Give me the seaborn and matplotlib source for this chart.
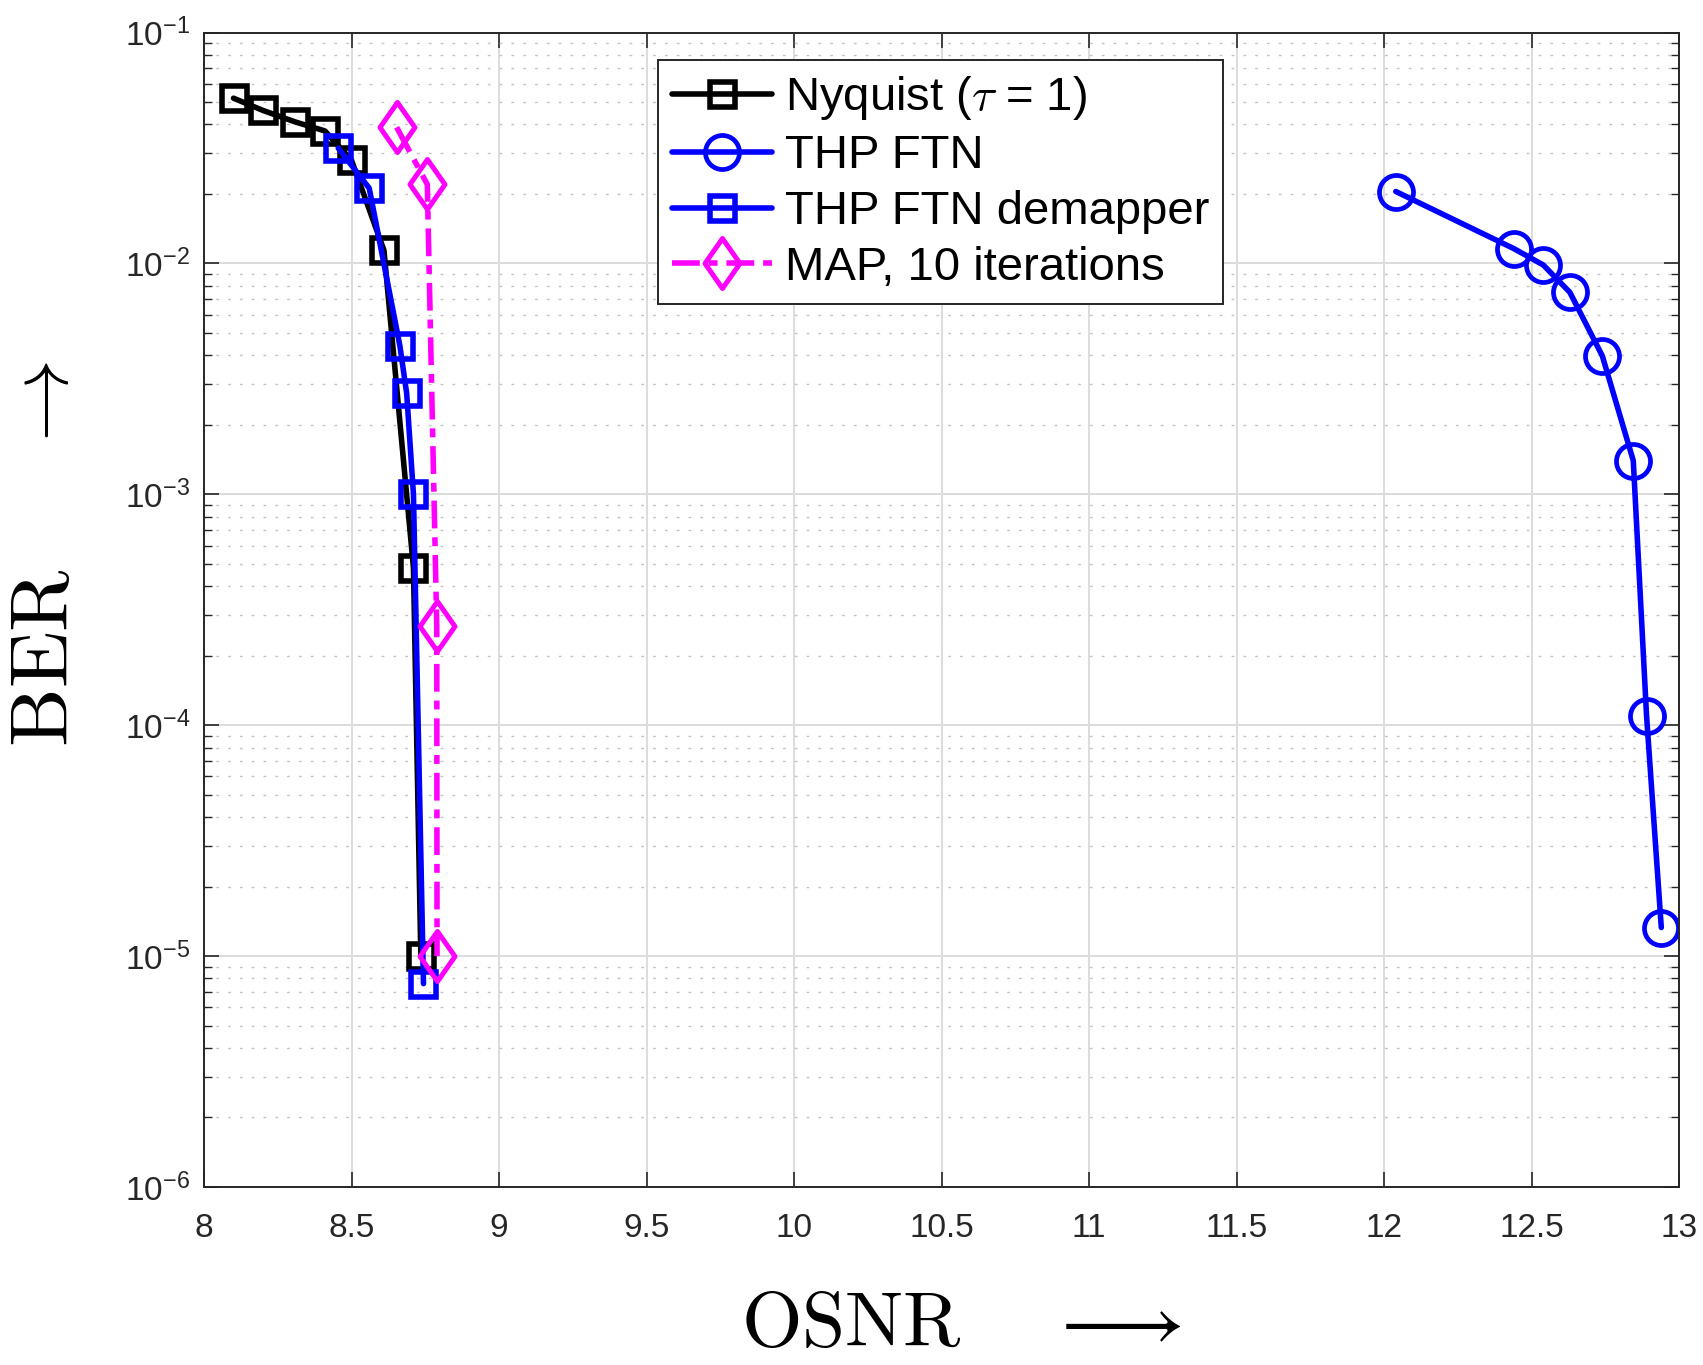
import numpy as np
import pandas as pd
import matplotlib
matplotlib.use("Agg")
import matplotlib.pyplot as plt
import seaborn as sns
from matplotlib.path import Path
from matplotlib.ticker import LogLocator, NullFormatter

# ---------------- data ----------------
nyq_x = [8.10, 8.20, 8.31, 8.41, 8.50, 8.61, 8.71, 8.735]
nyq_y = [5.2e-2, 4.6e-2, 4.1e-2, 3.75e-2, 2.8e-2, 1.14e-2, 4.8e-4, 1.0e-5]

thp_x = [12.04, 12.44, 12.54, 12.63, 12.74, 12.845, 12.89, 12.94]
thp_y = [2.05e-2, 1.16e-2, 9.85e-3, 7.5e-3, 3.98e-3, 1.4e-3, 1.1e-4, 1.33e-5]

dem_x = [8.455, 8.56, 8.664, 8.687, 8.71, 8.744]
dem_y = [3.16e-2, 2.12e-2, 4.4e-3, 2.74e-3, 1.0e-3, 7.6e-6]

map_x = [8.653, 8.757, 8.789, 8.79]
map_y = [3.89e-2, 2.2e-2, 2.7e-4, 1.0e-5]

labels = [r"Nyquist ($\tau$ = 1)", "THP FTN", "THP FTN demapper", "MAP, 10 iterations"]
x_ticks = [8, 8.5, 9, 9.5, 10, 10.5, 11, 11.5, 12, 12.5, 13]
x_tick_labels = ["8", "8.5", "9", "9.5", "10", "10.5", "11", "11.5", "12", "12.5", "13"]

# ---------------- style ----------------
sns.set_theme(style="whitegrid")
plt.rcParams["font.family"] = ["Liberation Sans", "DejaVu Sans"]

fig = plt.figure(figsize=(17.03, 13.65), dpi=100, facecolor="white")
ax = fig.add_axes([204 / 1703, 1 - 1187 / 1365, 1475 / 1703, (1187 - 32.6) / 1365])
ax.set_facecolor("white")

diamond = Path([(0, 1), (0.7, 0), (0, -1), (-0.7, 0), (0, 1)],
               [Path.MOVETO, Path.LINETO, Path.LINETO, Path.LINETO, Path.CLOSEPOLY])

LW = 4.0
common = dict(sort=False, estimator=None, ax=ax, markerfacecolor="none")

sns.lineplot(x=nyq_x, y=nyq_y, color="black", lw=LW, marker="s", markersize=18,
             markeredgewidth=LW, markeredgecolor="black", label=labels[0], **common)
sns.lineplot(x=thp_x, y=thp_y, color="#0000ff", lw=LW, marker="o", markersize=24.5,
             markeredgewidth=3.4, markeredgecolor="#0000ff", label=labels[1], **common)
sns.lineplot(x=dem_x, y=dem_y, color="#0000ff", lw=LW, marker="s", markersize=18,
             markeredgewidth=LW, markeredgecolor="#0000ff", label=labels[2], **common)
sns.lineplot(x=map_x, y=map_y, color="#ff00ff", lw=LW, marker=diamond, markersize=36,
             markeredgewidth=3.6, markeredgecolor="#ff00ff", label=labels[3], **common)
ax.get_lines()[3].set_dashes((5.0, 1.6, 1.6, 1.6))

ax.set_yscale("log")
ax.set_xlim(8, 13)
ax.set_ylim(1e-6, 1e-1)
ax.set_xticks(x_ticks)
ax.set_xticklabels(x_tick_labels)
ax.yaxis.set_major_locator(LogLocator(base=10, numticks=10))
ax.yaxis.set_minor_locator(LogLocator(base=10, subs=np.arange(2, 10), numticks=20))
ax.yaxis.set_minor_formatter(NullFormatter())

# grids
ax.grid(True, which="major", axis="both", color="#dcdcdc", lw=1.4, ls="-")
ax.grid(True, which="minor", axis="y", color="#c4c4c4", lw=1.0, ls=(0, (2.0, 6.5)))
ax.set_axisbelow(True)

# ticks
ax.tick_params(which="both", direction="in", top=True, right=True, left=True, bottom=True,
               colors="#262626", labelcolor="#262626")
ax.tick_params(which="major", length=11, width=1.2, labelsize=24)
ax.tick_params(which="minor", length=6, width=1.0)
ax.tick_params(axis="x", which="major", pad=19)
ax.tick_params(axis="y", which="major", pad=10)
for s in ax.spines.values():
    s.set_visible(True)
    s.set_color("#262626")
    s.set_linewidth(1.4)

# labels
ax.set_xlabel(r"$\mathrm{OSNR}\quad\;\longrightarrow$", fontsize=56, math_fontfamily="cm",
              color="black")
ax.set_ylabel(r"$\mathrm{BER}\quad\;\;\rightarrow$", fontsize=60, math_fontfamily="cm",
              color="black")
ax.xaxis.set_label_coords(0.513, -0.088)
ax.yaxis.set_label_coords(-0.081, 0.548)

# legend
leg = ax.legend(loc="upper left", bbox_to_anchor=(0.308, 0.976), borderaxespad=0,
                fontsize=34, frameon=True, fancybox=False, framealpha=1,
                edgecolor="#262626", facecolor="white", handlelength=2.1,
                handletextpad=0.28, borderpad=0.3, labelspacing=0.25)
leg.get_frame().set_linewidth(1.4)
for t in leg.get_texts():
    t.set_math_fontfamily("cm")
    t.set_color("black")

fig.savefig("out.png", dpi=100, facecolor="white")
